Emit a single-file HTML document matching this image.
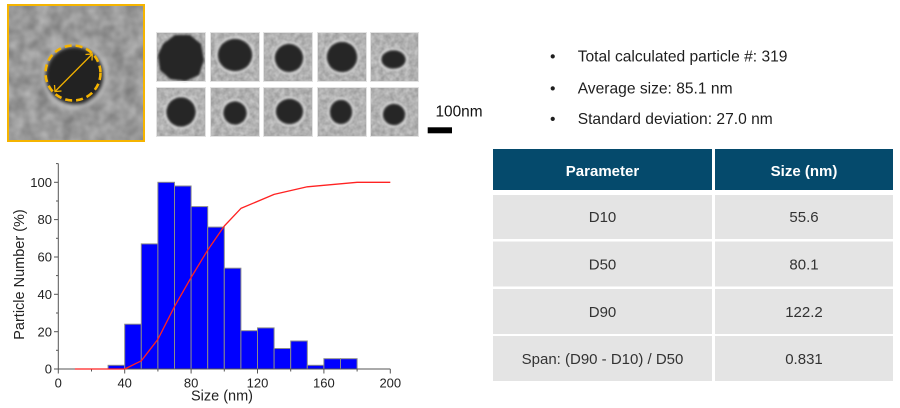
<!DOCTYPE html>
<html><head><meta charset="utf-8"><style>
html,body{margin:0;padding:0;background:#fff;}
svg{display:block;font-family:"Liberation Sans",Arial,sans-serif;}
</style></head><body>
<svg width="900" height="408" viewBox="0 0 900 408" xmlns="http://www.w3.org/2000/svg">
<defs>
<filter id="nz1" x="0" y="0" width="1" height="1" color-interpolation-filters="sRGB">
<feTurbulence type="fractalNoise" baseFrequency="0.08" numOctaves="2" seed="4"/>
<feColorMatrix type="matrix" values="0.28 0 0 0 0.46  0.28 0 0 0 0.46  0.28 0 0 0 0.46  0 0 0 0 1"/>
</filter>
<filter id="nz2" x="0" y="0" width="1" height="1" color-interpolation-filters="sRGB">
<feTurbulence type="fractalNoise" baseFrequency="0.2" numOctaves="2" seed="9"/>
<feColorMatrix type="matrix" values="0.25 0 0 0 0.57  0.25 0 0 0 0.57  0.25 0 0 0 0.57  0 0 0 0 1"/>
</filter>
<filter id="bl1" color-interpolation-filters="sRGB"><feGaussianBlur stdDeviation="1.8"/></filter>
<filter id="bl2" color-interpolation-filters="sRGB"><feGaussianBlur stdDeviation="1"/></filter>
</defs>

<!-- big image -->
<rect x="9" y="6" width="134" height="134" filter="url(#nz1)"/>
<circle cx="75" cy="76" r="31" fill="none" stroke="#bdbdbd" stroke-width="4" filter="url(#bl1)" opacity="0.8"/>
<circle cx="74.5" cy="75.5" r="28.5" fill="#222" filter="url(#bl1)"/>
<rect x="8" y="5" width="136" height="136" fill="none" stroke="#f5b400" stroke-width="2"/>
<circle cx="73" cy="73" r="27.5" fill="none" stroke="#f5b400" stroke-width="2.6" stroke-dasharray="7 4"/>
<g stroke="#f0b000" stroke-width="1.3" fill="none">
<line x1="55" y1="91.5" x2="92.3" y2="54"/>
<polyline points="54.5,85 55,91.5 61.5,91"/>
<polyline points="85.5,54.5 92.3,54 92,60.5"/>
</g>

<!-- small tiles -->
<g>
<rect x="156" y="32" width="50" height="50" filter="url(#nz2)"/>
<rect x="210" y="32" width="50" height="50" filter="url(#nz2)"/>
<rect x="263" y="32" width="50" height="50" filter="url(#nz2)"/>
<rect x="317" y="32" width="50" height="50" filter="url(#nz2)"/>
<rect x="370" y="32" width="49" height="50" filter="url(#nz2)"/>
<rect x="156" y="87" width="50" height="50" filter="url(#nz2)"/>
<rect x="210" y="87" width="50" height="50" filter="url(#nz2)"/>
<rect x="263" y="87" width="50" height="50" filter="url(#nz2)"/>
<rect x="317" y="87" width="50" height="50" filter="url(#nz2)"/>
<rect x="370" y="87" width="49" height="50" filter="url(#nz2)"/>
</g>
<g fill="none" stroke="#d6d6d6" stroke-width="2" filter="url(#bl2)">
<ellipse cx="235" cy="55" rx="18.5" ry="17.5"/>
<circle cx="289" cy="58" r="15.5"/>
<circle cx="342" cy="57" r="16.5"/>
<ellipse cx="393.5" cy="59.5" rx="13.5" ry="10.5"/>
<circle cx="181" cy="112" r="16"/>
<circle cx="235" cy="113" r="13"/>
<ellipse cx="289.5" cy="111.5" rx="15" ry="14"/>
<ellipse cx="341" cy="112" rx="12.5" ry="13.5"/>
<ellipse cx="394" cy="114.5" rx="12.5" ry="12"/>
</g>
<g fill="#262626" filter="url(#bl2)">
<path d="M163,44 L175,35 L190,35 L201,44 L204,60 L199,75 L186,81 L170,79 L160,70 L158,55 Z"/>
<ellipse cx="235" cy="55" rx="17" ry="16"/>
<circle cx="289" cy="58" r="14"/>
<circle cx="342" cy="57" r="15"/>
<ellipse cx="393.5" cy="59.5" rx="12" ry="9"/>
<circle cx="181" cy="112" r="14.5"/>
<circle cx="235" cy="113" r="11.5"/>
<ellipse cx="289.5" cy="111.5" rx="13.5" ry="12.5"/>
<ellipse cx="341" cy="112" rx="11" ry="12"/>
<ellipse cx="394" cy="114.5" rx="11" ry="10.5"/>
</g>
<g fill="none" stroke="#e2e2e2" stroke-width="1">
<rect x="156.5" y="32.5" width="49" height="49"/>
<rect x="210.5" y="32.5" width="49" height="49"/>
<rect x="263.5" y="32.5" width="49" height="49"/>
<rect x="317.5" y="32.5" width="49" height="49"/>
<rect x="370.5" y="32.5" width="48" height="49"/>
<rect x="156.5" y="87.5" width="49" height="49"/>
<rect x="210.5" y="87.5" width="49" height="49"/>
<rect x="263.5" y="87.5" width="49" height="49"/>
<rect x="317.5" y="87.5" width="49" height="49"/>
<rect x="370.5" y="87.5" width="48" height="49"/>
</g>

<!-- scale bar -->
<text x="435.5" y="116.7" font-size="15.4" fill="#111">100nm</text>
<rect x="427.7" y="127.3" width="24.3" height="6" fill="#000"/>

<!-- bullets -->
<g font-size="15.6" fill="#1e1e1e">
<text x="550" y="61.7">•</text>
<text x="577.7" y="61.7">Total calculated particle #: 319</text>
<text x="550" y="93.3">•</text>
<text x="577.7" y="93.3">Average size: 85.1 nm</text>
<text x="550" y="124">•</text>
<text x="577.7" y="124">Standard deviation: 27.0 nm</text>
</g>

<!-- table -->
<rect x="493" y="149" width="219" height="41" fill="#054a6c"/>
<rect x="715" y="149" width="178" height="41" fill="#054a6c"/>
<g font-size="15" font-weight="bold" fill="#fff" text-anchor="middle">
<text x="602.5" y="176">Parameter</text>
<text x="804" y="176">Size (nm)</text>
</g>
<g fill="#e4e4e4">
<rect x="493" y="195" width="219" height="44"/><rect x="715" y="195" width="178" height="44"/>
<rect x="493" y="241.5" width="219" height="45"/><rect x="715" y="241.5" width="178" height="45"/>
<rect x="493" y="289" width="219" height="45"/><rect x="715" y="289" width="178" height="45"/>
<rect x="493" y="336" width="219" height="45"/><rect x="715" y="336" width="178" height="45"/>
</g>
<g font-size="15" fill="#333" text-anchor="middle">
<text x="602.5" y="222">D10</text><text x="804" y="222">55.6</text>
<text x="602.5" y="269.5">D50</text><text x="804" y="269.5">80.1</text>
<text x="602.5" y="317">D90</text><text x="804" y="317">122.2</text>
<text x="602.5" y="364">Span: (D90 - D10) / D50</text><text x="804" y="364">0.831</text>
</g>

<!-- chart bars -->
<g fill="#0000ff" stroke="#8a8a8a" stroke-width="1">
<rect x="108.1" y="365.3" width="16.6" height="3.7"/>
<rect x="124.7" y="324.2" width="16.6" height="44.8"/>
<rect x="141.3" y="243.9" width="16.6" height="125.1"/>
<rect x="157.9" y="182.3" width="16.6" height="186.7"/>
<rect x="174.5" y="186.0" width="16.6" height="183.0"/>
<rect x="191.1" y="206.6" width="16.6" height="162.4"/>
<rect x="207.7" y="227.1" width="16.6" height="141.9"/>
<rect x="224.3" y="268.2" width="16.6" height="100.8"/>
<rect x="240.9" y="330.7" width="16.6" height="38.3"/>
<rect x="257.5" y="327.9" width="16.6" height="41.1"/>
<rect x="274.1" y="348.5" width="16.6" height="20.5"/>
<rect x="290.7" y="341.0" width="16.6" height="28.0"/>
<rect x="307.3" y="365.3" width="16.6" height="3.7"/>
<rect x="323.9" y="358.7" width="16.6" height="10.3"/>
<rect x="340.5" y="358.7" width="16.6" height="10.3"/>
</g>

<!-- axes -->
<g stroke="#555" stroke-width="1" fill="none">
<line x1="58.3" y1="163.5" x2="58.3" y2="369"/>
<line x1="58.3" y1="369" x2="390.3" y2="369"/>
<line x1="54" y1="369" x2="58.3" y2="369"/>
<line x1="54" y1="331.7" x2="58.3" y2="331.7"/>
<line x1="54" y1="294.3" x2="58.3" y2="294.3"/>
<line x1="54" y1="257" x2="58.3" y2="257"/>
<line x1="54" y1="219.6" x2="58.3" y2="219.6"/>
<line x1="54" y1="182.3" x2="58.3" y2="182.3"/>
<line x1="56" y1="350.3" x2="58.3" y2="350.3"/>
<line x1="56" y1="313" x2="58.3" y2="313"/>
<line x1="56" y1="275.6" x2="58.3" y2="275.6"/>
<line x1="56" y1="238.3" x2="58.3" y2="238.3"/>
<line x1="56" y1="201" x2="58.3" y2="201"/>
<line x1="56" y1="163.6" x2="58.3" y2="163.6"/>
<line x1="58.3" y1="369" x2="58.3" y2="373.5"/>
<line x1="124.7" y1="369" x2="124.7" y2="373.5"/>
<line x1="191.1" y1="369" x2="191.1" y2="373.5"/>
<line x1="257.5" y1="369" x2="257.5" y2="373.5"/>
<line x1="323.9" y1="369" x2="323.9" y2="373.5"/>
<line x1="390.3" y1="369" x2="390.3" y2="373.5"/>
<line x1="91.5" y1="369" x2="91.5" y2="371.5"/>
<line x1="157.9" y1="369" x2="157.9" y2="371.5"/>
<line x1="224.3" y1="369" x2="224.3" y2="371.5"/>
<line x1="290.7" y1="369" x2="290.7" y2="371.5"/>
<line x1="357.1" y1="369" x2="357.1" y2="371.5"/>
</g>

<!-- cumulative line -->
<polyline fill="none" stroke="#ff2222" stroke-width="1.3" stroke-linejoin="round"
points="74.9,369 124.7,369 141.3,360.8 157.9,339.3 174.5,306.6 191.1,277.5 207.7,250.1 224.3,226 240.9,208.4 274.1,194.4 307.3,186.8 357.1,182.3 390.3,182.3"/>

<!-- tick labels -->
<g font-size="13" fill="#222" text-anchor="end">
<text x="52" y="373.6">0</text>
<text x="52" y="336.3">20</text>
<text x="52" y="298.9">40</text>
<text x="52" y="261.6">60</text>
<text x="52" y="224.2">80</text>
<text x="52" y="186.9">100</text>
</g>
<g font-size="13" fill="#222" text-anchor="middle">
<text x="58.3" y="387.5">0</text>
<text x="124.7" y="387.5">40</text>
<text x="191.1" y="387.5">80</text>
<text x="257.5" y="387.5">120</text>
<text x="323.9" y="387.5">160</text>
<text x="390.3" y="387.5">200</text>
</g>
<text x="222" y="400.5" font-size="14.5" fill="#222" text-anchor="middle">Size (nm)</text>
<text transform="translate(24,274.5) rotate(-90)" font-size="14.5" fill="#222" text-anchor="middle">Particle Number (%)</text>
</svg>
</body></html>
